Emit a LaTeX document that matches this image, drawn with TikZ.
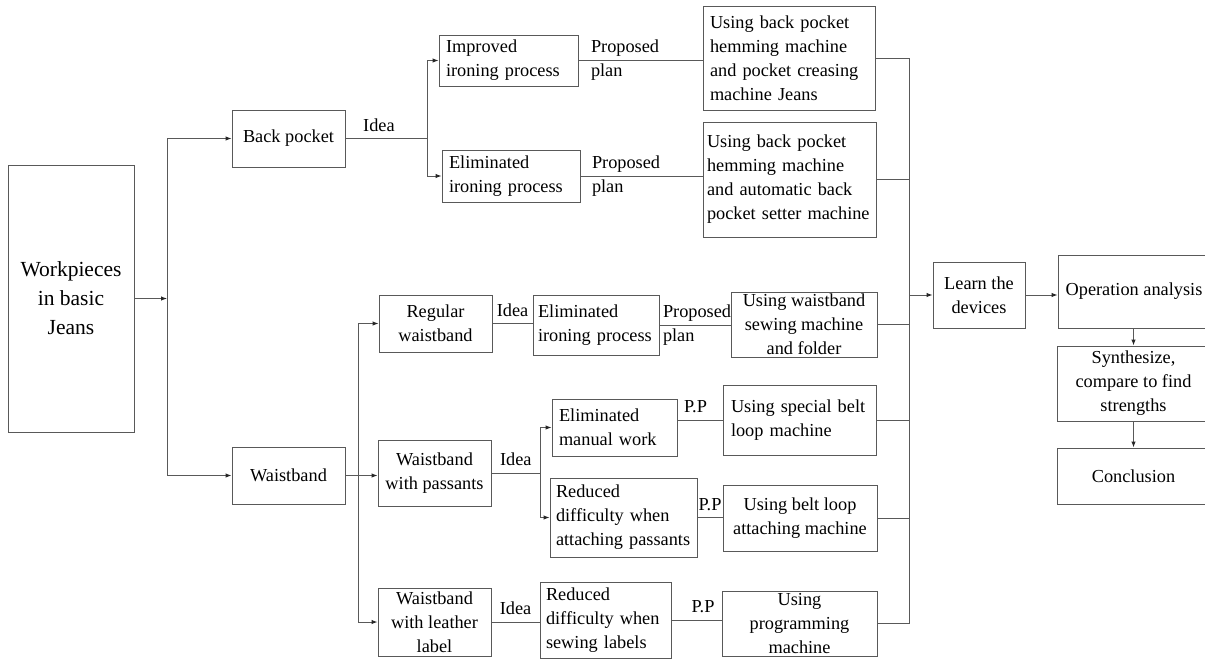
\documentclass[tikz,border=0pt]{standalone}
\usepackage{fontspec}
\setmainfont{Liberation Serif}
\usetikzlibrary{arrows.meta,calc}
\newcommand\myfs{\fontsize{18.3}{24}\selectfont}
\begin{document}
\begin{tikzpicture}[x=1pt,y=-1pt,
  box/.style={draw=black!65, line width=1pt, inner ysep=0pt, font=\myfs, text=black},
  lbox/.style={box, align=left, execute at begin node={\hyphenpenalty=10000\exhyphenpenalty=10000}},
  cbox/.style={box, align=center, inner xsep=2pt},
  lbl/.style={font=\myfs, inner sep=0pt, text=black, align=left},
  con/.style={draw=black!65, line width=1pt},
  arr/.style={con, -{Latex[length=6pt,width=4.5pt,color=black!85]}}]
\useasboundingbox (0,0) rectangle (1205,659);
\fill[white] (0,0) rectangle (1205,659);

% nodes
\node[cbox, font=\fontsize{21.5}{29}\selectfont, minimum width=126pt, minimum height=267pt] (wp) at (71,298.5) {Workpieces\\in basic\\Jeans};
\node[cbox, minimum width=113pt, minimum height=57pt] (bp) at (288.5,138.5) {Back pocket};
\node[cbox, minimum width=113pt, minimum height=57pt] (wb) at (288.5,475.5) {Waistband};

\node[lbox, inner xsep=7pt, text width=125pt, minimum height=51pt] (imp) at (508.5,60.5) {Improved\\ironing process};
\node[lbox, inner xsep=7pt, text width=124pt, minimum height=52pt] (eli) at (511,176) {Eliminated\\ironing process};
\node[lbox, inner xsep=7pt, text width=158pt, minimum height=104pt] (u1) at (789,58) {Using back pocket\\hemming machine\\and pocket creasing\\machine Jeans};
\node[lbox, inner xsep=4pt, text width=165pt, minimum height=115pt] (u2) at (789.5,179.5) {Using back pocket\\hemming machine\\and automatic back\\pocket setter machine};

\node[cbox, minimum width=113pt, minimum height=57pt] (rw) at (435.5,323.5) {Regular\\waistband};
\node[lbox, inner xsep=5pt, text width=116pt, minimum height=60pt] (e3) at (596,325) {Eliminated\\ironing process};
\node[cbox, minimum width=146pt, minimum height=65pt] (u3) at (804,324.5) {Using waistband\\sewing machine\\and folder};

\node[cbox, minimum width=113pt, minimum height=66pt] (wp2) at (434.5,473) {Waistband\\with passants};
\node[lbox, inner xsep=7pt, text width=111pt, minimum height=57pt] (m) at (614.5,427.5) {Eliminated\\manual work};
\node[lbox, inner xsep=8pt, text width=137pt, minimum height=70pt] (u4) at (799.5,420) {Using special belt\\loop machine};
\node[lbox, inner xsep=6pt, text width=135pt, minimum height=79pt] (r1) at (623.5,517.5) {Reduced\\difficulty when\\attaching passants};
\node[cbox, minimum width=154pt, minimum height=66pt] (u5) at (800,518) {Using belt loop\\attaching machine};

\node[cbox, minimum width=113pt, minimum height=68pt] (wl) at (434.5,622) {Waistband\\with leather\\label};
\node[lbox, inner xsep=6pt, text width=119pt, minimum height=76pt] (r2) at (605.5,620) {Reduced\\difficulty when\\sewing labels};
\node[cbox, minimum width=155pt, minimum height=65pt] (u6) at (799.5,623.5) {Using\\programming\\machine};

\node[cbox, minimum width=92pt, minimum height=66pt] (ld) at (979,295) {Learn the\\devices};
\node[cbox, minimum width=152pt, minimum height=73pt] (oa) at (1134,291.5) {Operation analysis};
\node[cbox, minimum width=153pt, minimum height=75pt] (syn) at (1133.5,383.5) {Synthesize,\\compare to find\\strengths};
\node[cbox, minimum width=153pt, minimum height=56pt] (cc) at (1133.5,476) {Conclusion};

% junctions
\coordinate (t1) at (167,298.5);
\coordinate (s1) at (427,138.5);
\coordinate (s2) at (358,475.5);
\coordinate (s3) at (540,473);
\coordinate (rt) at (909,0);

% left tree
\draw[arr] (wp.east) -- (t1);
\draw[arr] (t1) |- (bp.west);
\draw[arr] (t1) |- (wb.west);

% back pocket branch
\draw[con] (bp.east) -- node[lbl, above=6.5pt, pos=0.41] {Idea} (s1);
\draw[arr] (s1) |- (imp.west);
\draw[arr] (s1) |- (eli.west);
\draw[con] (imp.east) -- (imp.east -| u1.west) node[lbl, anchor=west, at start, xshift=12pt] {Proposed\\plan};
\draw[con] (eli.east) -- (eli.east -| u2.west) node[lbl, anchor=west, at start, xshift=11pt] {Proposed\\plan};

% waistband branch
\draw[arr] (wb.east) -- (wb.east -| wp2.west);
\draw[arr] (s2) |- (rw.west);
\draw[arr] (s2) |- (wl.west);

\draw[con] (rw.east) -- node[lbl, above=6.5pt, midway] {Idea} (rw.east -| e3.west);
\draw[con] (e3.east) -- (e3.east -| u3.west) node[lbl, anchor=west, at start, xshift=3pt] {Proposed\\plan};

\draw[con] (wp2.east) -- node[lbl, above=6.5pt, midway] {Idea} (s3);
\draw[arr] (s3) |- (m.west);
\draw[arr] (s3) |- (r1.west);
\draw[con] (u4.west -| m.east) -- node[lbl, above=6.5pt, pos=0.4] {P.P} (u4.west);
\draw[con] (r1.east) -- node[lbl, above=6.5pt, midway] {P.P} (r1.east -| u5.west);

\draw[con] (wl.east) -- node[lbl, above=6.5pt, midway] {Idea} (wl.east -| r2.west);
\draw[con] (r2.east) -- node[lbl, above=6.5pt, pos=0.63] {P.P} (r2.east -| u6.west);

% right collector
\draw[con] (u1.east) -- (u1.east -| rt) -- (u6.east -| rt) -- (u6.east);
\draw[con] (u2.east) -- (u2.east -| rt);
\draw[con] (u3.east) -- (u3.east -| rt);
\draw[con] (u4.east) -- (u4.east -| rt);
\draw[con] (u5.east) -- (u5.east -| rt);
\draw[arr] (ld.west -| rt) -- (ld.west);

% final chain
\draw[arr] (ld.east) -- (ld.east -| oa.west);
\draw[arr] (oa.south -| syn.north) -- (syn.north);
\draw[arr] (syn.south) -- (cc.north);
\end{tikzpicture}
\end{document}
